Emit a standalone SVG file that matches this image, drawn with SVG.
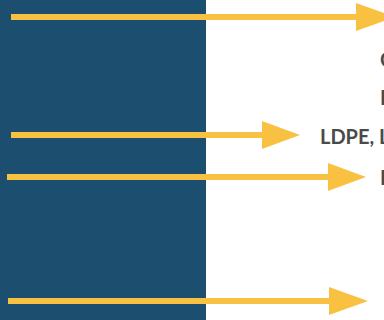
<svg xmlns="http://www.w3.org/2000/svg" width="384" height="320" viewBox="0 0 384 320">
<defs>
<style>
.bar{fill:#1b4e6f}
.shaft{stroke:#f8c141;stroke-width:6;fill:none}
.head{fill:#f8c141}
.lbl{font-family:Lato,"Liberation Sans",sans-serif;font-weight:bold;font-size:20px;fill:#4a4a4a}
</style>
</defs>
<rect width="384" height="320" fill="#ffffff"/>
<g id="panel"><rect class="bar" x="0" y="0" width="206" height="320"/></g>
<g id="connectors">
<line class="shaft" x1="11" y1="17" x2="358" y2="17"/>
<polygon class="head" points="356,3 395,17 356,31"/>
<line class="shaft" x1="11" y1="135" x2="264" y2="135"/>
<polygon class="head" points="262,121 300,135 262,149"/>
<line class="shaft" x1="7" y1="177" x2="330" y2="177"/>
<polygon class="head" points="328,163 366,177 328,191"/>
<line class="shaft" x1="8" y1="301" x2="331" y2="301"/>
<polygon class="head" points="329,287 368,301 329,315"/>
</g>
<g id="label1"><text class="lbl" x="380" y="67">C</text></g>
<g id="label2"><text class="lbl" x="380" y="105">I</text></g>
<g id="label3"><text class="lbl" x="320" y="144">LDPE, L</text></g>
<g id="label4"><text class="lbl" x="380" y="185">I</text></g>
</svg>
